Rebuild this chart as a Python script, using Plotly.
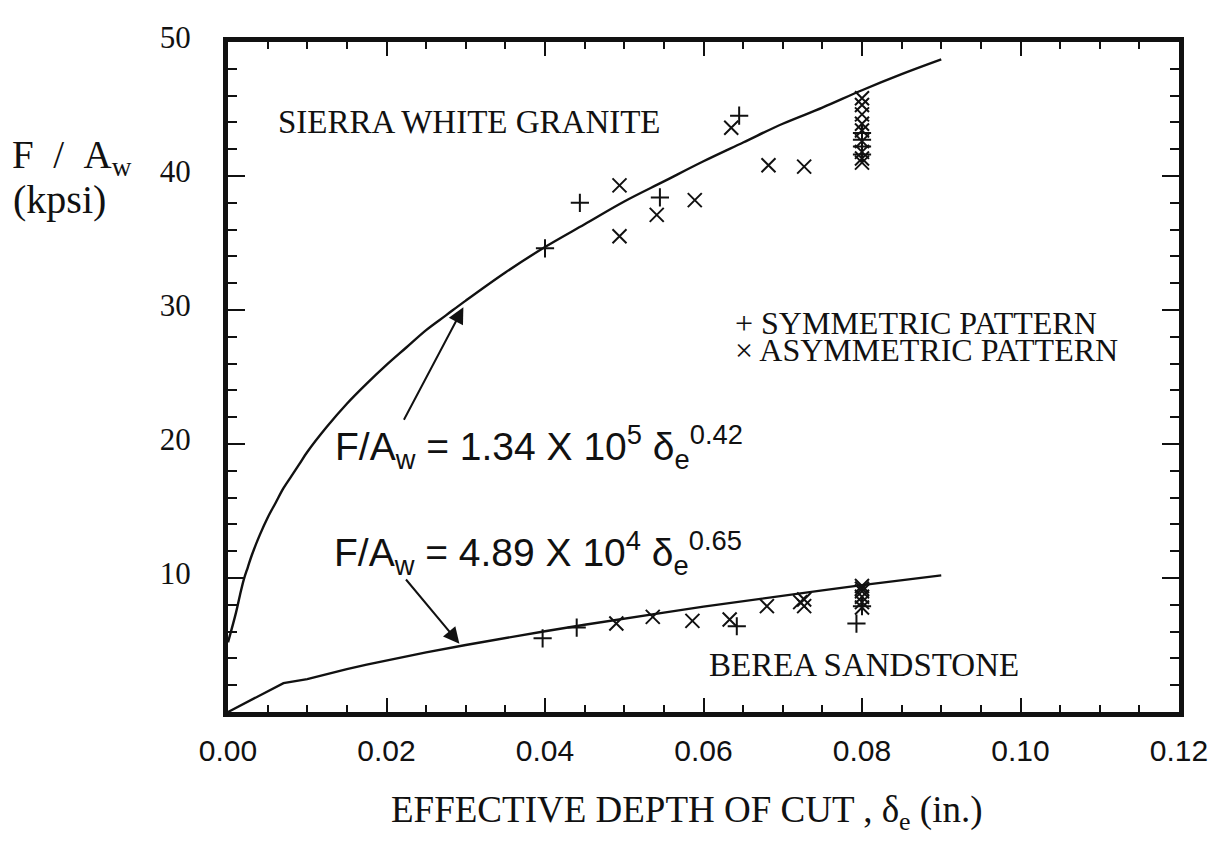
import plotly.graph_objects as go

# ── Data ──────────────────────────────────────────────────────
# fitted curves, sampled points along the drawn lines (kpsi)
granite_curve_x = [0.0, 0.001, 0.0015, 0.002, 0.0025, 0.003, 0.004, 0.005, 0.006, 0.007,
                   0.008, 0.009, 0.01, 0.0125, 0.015, 0.0175, 0.02, 0.0225, 0.025, 0.0275,
                   0.03, 0.035, 0.04, 0.045, 0.05, 0.055, 0.06, 0.065, 0.07, 0.075,
                   0.08, 0.085, 0.09]
granite_curve_y = [5.2, 7.4, 8.7, 9.9, 10.8, 11.7, 13.2, 14.5, 15.6, 16.7,
                   17.6, 18.5, 19.4, 21.3, 23.0, 24.5, 25.9, 27.2, 28.5, 29.6,
                   30.7, 32.8, 34.7, 36.4, 38.1, 39.6, 41.1, 42.5, 43.9, 45.1,
                   46.4, 47.6, 48.7]
sand_curve_x = [0.0, 0.007, 0.01, 0.0125, 0.015, 0.0175, 0.02, 0.025, 0.03, 0.035,
                0.04, 0.045, 0.05, 0.055, 0.06, 0.065, 0.07, 0.075, 0.08, 0.085, 0.09]
sand_curve_y = [0.0, 2.15, 2.45, 2.83, 3.2, 3.53, 3.84, 4.45, 5.0, 5.53,
                6.03, 6.51, 6.98, 7.42, 7.86, 8.28, 8.69, 9.08, 9.47, 9.85, 10.2]

# Sierra White granite
granite_sym_x = [0.0400, 0.0444, 0.0545, 0.0645, 0.0800, 0.0800, 0.0800, 0.0800]
granite_sym_y = [34.6, 38.0, 38.4, 44.5, 43.2, 42.7, 42.2, 41.6]
granite_asym_x = [0.0494, 0.0494, 0.0541, 0.0589, 0.0635, 0.0682, 0.0727,
                  0.0800, 0.0800, 0.0800, 0.0800, 0.0800, 0.0800, 0.0800, 0.0800, 0.0800]
granite_asym_y = [39.3, 35.5, 37.1, 38.2, 43.6, 40.8, 40.7,
                  45.8, 45.3, 44.6, 43.9, 43.4, 42.6, 41.8, 41.3, 41.0]

# Berea sandstone
sand_sym_x = [0.0397, 0.0440, 0.0642, 0.0793, 0.0800]
sand_sym_y = [5.5, 6.3, 6.4, 6.6, 7.9]
sand_asym_x = [0.0490, 0.0536, 0.0586, 0.0633, 0.0680, 0.0722, 0.0727, 0.0727,
               0.0800, 0.0800, 0.0800, 0.0800, 0.0800, 0.0800]
sand_asym_y = [6.6, 7.1, 6.8, 6.9, 7.9, 8.2, 8.4, 7.9,
               9.4, 9.2, 9.0, 8.6, 8.2, 7.8]

x_tickvals = [0.0, 0.02, 0.04, 0.06, 0.08, 0.10, 0.12]
x_ticktext = ["0.00", "0.02", "0.04", "0.06", "0.08", "0.10", "0.12"]
y_tickvals = [10, 20, 30, 40, 50]
y_ticktext = ["10", "20", "30", "40", "50"]

# arrows: (tail x, tail y, head x, head y)
arrow_granite = (0.0221, 21.7, 0.0297, 30.2)
arrow_sand = (0.0223, 10.0, 0.0292, 5.1)

SERIF = "Liberation Serif, Times New Roman, serif"
SANS = "Liberation Sans, Arial, sans-serif"
INK = "#111111"
NB = "\u00a0"

fig = go.Figure()

fig.add_trace(go.Scatter(x=granite_curve_x, y=granite_curve_y, mode="lines",
                         line=dict(color=INK, width=2.4, shape="spline", smoothing=1.0),
                         hoverinfo="skip"))
fig.add_trace(go.Scatter(x=sand_curve_x, y=sand_curve_y, mode="lines",
                         line=dict(color=INK, width=2.4), hoverinfo="skip"))

for px, py in [(granite_sym_x, granite_sym_y), (sand_sym_x, sand_sym_y)]:
    fig.add_trace(go.Scatter(x=px, y=py, mode="markers",
                             marker=dict(symbol="cross-thin-open", size=13, color=INK,
                                         line=dict(color=INK, width=2))))
for px, py in [(granite_asym_x, granite_asym_y), (sand_asym_x, sand_asym_y)]:
    fig.add_trace(go.Scatter(x=px, y=py, mode="markers",
                             marker=dict(symbol="x-thin-open", size=14, color=INK,
                                         line=dict(color=INK, width=2))))

# ── Text labels ───────────────────────────────────────────────
fig.add_annotation(x=0.0060, y=44.0, xanchor="left", yanchor="middle", showarrow=False,
                   text="SIERRA WHITE GRANITE", font=dict(family=SERIF, size=33, color=INK))
fig.add_annotation(x=0.0605, y=3.5, xanchor="left", yanchor="middle", showarrow=False,
                   text="BEREA SANDSTONE", font=dict(family=SERIF, size=33, color=INK))
fig.add_annotation(x=0.0637, y=29.0, xanchor="left", yanchor="middle", showarrow=False,
                   text="+ SYMMETRIC PATTERN", font=dict(family=SERIF, size=32, color=INK))
fig.add_annotation(x=0.0637, y=27.0, xanchor="left", yanchor="middle", showarrow=False,
                   text="× ASYMMETRIC PATTERN", font=dict(family=SERIF, size=32, color=INK))

fig.add_annotation(x=0.0132, y=19.8, xanchor="left", yanchor="middle", showarrow=False,
                   text="F/A<sub>w</sub> = 1.34 X 10<sup>5</sup> δ<sub>e</sub><sup>0.42</sup>",
                   font=dict(family=SANS, size=39, color=INK))
fig.add_annotation(x=0.0131, y=11.9, xanchor="left", yanchor="middle", showarrow=False,
                   text="F/A<sub>w</sub> = 4.89 X 10<sup>4</sup> δ<sub>e</sub><sup>0.65</sup>",
                   font=dict(family=SANS, size=39, color=INK))

for tx, ty, hx, hy in [arrow_granite, arrow_sand]:
    fig.add_annotation(x=hx, y=hy, ax=tx, ay=ty, xref="x", yref="y", axref="x", ayref="y",
                       text="", showarrow=True, arrowhead=2, arrowsize=1.6,
                       arrowwidth=2, arrowcolor=INK)

# axis titles
fig.add_annotation(x=0, y=0.828, xref="paper", yref="paper", xanchor="left", yanchor="middle",
                   showarrow=False, xshift=-218,
                   text=f"F{NB}{NB}/{NB}{NB}A<sub>w</sub>",
                   font=dict(family=SERIF, size=39, color=INK))
fig.add_annotation(x=0, y=0.765, xref="paper", yref="paper", xanchor="left", yanchor="middle",
                   showarrow=False, xshift=-217,
                   text="(kpsi)", font=dict(family=SERIF, size=40, color=INK))
fig.add_annotation(x=0.5, y=0, xref="paper", yref="paper", xanchor="center", yanchor="middle",
                   showarrow=False, xshift=-17, yshift=-100,
                   text="EFFECTIVE DEPTH OF CUT , δ<sub>e</sub> (in.)",
                   font=dict(family=SERIF, size=37, color=INK))

axis_common = dict(
    showline=True, linecolor=INK, linewidth=5, mirror="ticks",
    ticks="inside", tickwidth=2, tickcolor=INK,
    showgrid=False, zeroline=False, ticklabeloverflow="allow",
)

# the page body keeps its 8 px default margin, so the figure is drawn 8 px short
fig.update_layout(
    width=1212, height=834,
    paper_bgcolor="white", plot_bgcolor="white",
    showlegend=False,
    margin=dict(l=220, r=32, t=19, b=130),
    xaxis=dict(
        range=[0, 0.12], tickvals=x_tickvals, ticktext=x_ticktext,
        tickfont=dict(family=SANS, size=30, color=INK),
        ticklen=14, ticklabelstandoff=8,
        minor=dict(ticks="inside", ticklen=7, tickwidth=2, tickcolor=INK, dtick=0.005),
        **axis_common,
    ),
    yaxis=dict(
        range=[0, 50], tickvals=y_tickvals, ticktext=y_ticktext,
        tickfont=dict(family=SERIF, size=31, color=INK),
        ticklen=17, ticklabelstandoff=26, ticklabelshift=-5,
        minor=dict(ticks="inside", ticklen=9, tickwidth=2, tickcolor=INK, dtick=2),
        **axis_common,
    ),
)

fig.write_html("out.html")
